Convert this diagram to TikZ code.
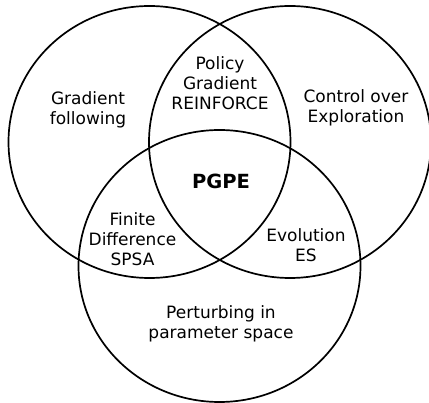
\documentclass[tikz,border=0pt]{standalone}
\usepackage{fontspec}
\setmainfont{DejaVu Sans}
\usetikzlibrary{shapes.geometric}

\begin{document}
\begin{tikzpicture}[x=1pt, y=-1pt,
setnode/.style={ellipse, draw=black, line width=1.7pt, inner sep=0pt, minimum width=282pt, minimum height=272pt},
labelnode/.style={align=center, inner sep=0pt, font=\fontsize{17}{20}\selectfont},
]
\useasboundingbox (0,0) rectangle (429,403);

%Sets
\node[setnode]   (gradset)    at (149.5,142) {};
\node[setnode]   (controlset) at (290,142)   {};
\node[setnode]   (perturbset) at (219.5,266) {};

%Labels
\node[labelnode] (gradfollow) at (88,110)  {Gradient\\following};
\node[labelnode] (policygrad) at (220,83)  {Policy\\Gradient\\REINFORCE};
\node[labelnode] (controlexp) at (356,108) {Control over\\Exploration};
\node[labelnode] (pgpe)       at (221,181) {\fontsize{19.5}{22}\selectfont\bfseries PGPE};
\node[labelnode] (finitediff) at (132.5,239) {Finite\\Difference\\SPSA};
\node[labelnode] (evolution)  at (306,245) {Evolution\\ES};
\node[labelnode] (perturbing) at (221,324) {Perturbing in\\parameter space};
\end{tikzpicture}
\end{document}
